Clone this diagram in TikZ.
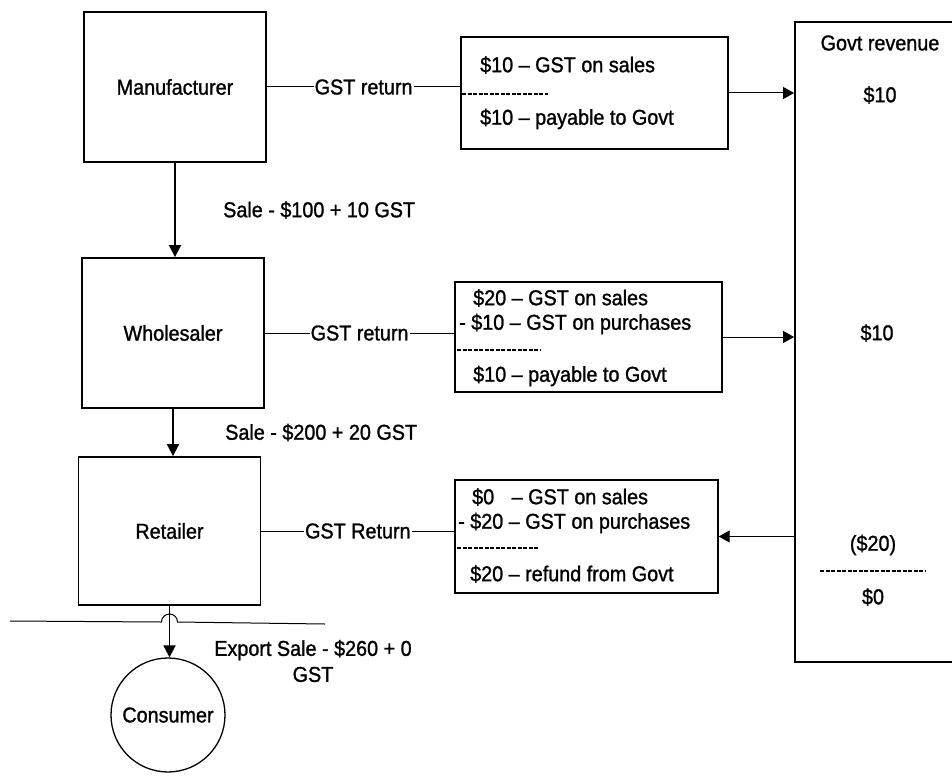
\documentclass[tikz,border=0pt]{standalone}
\usepackage{fontspec}
\setmainfont{Liberation Sans}[FakeBold=1.2,FakeStretch=0.92]
\usetikzlibrary{arrows.meta,positioning}

\begin{document}
\begin{tikzpicture}[x=1pt,y=-1pt,
  every node/.style={font=\fontsize{21.5}{26}\selectfont},
  party/.style={rectangle,draw,line width=1.8pt,minimum width=182pt,minimum height=150pt},
  retbox/.style={rectangle,draw,line width=1.4pt,minimum width=267pt,minimum height=112pt},
  txt/.style={anchor=west,inner sep=0pt},
  rule/.style={line width=1.5pt,dash pattern=on 4pt off 1.5pt},
  link/.style={line width=1pt},
  flow/.style={-{Triangle[length=11pt,width=12pt]},line width=1pt},
  arr/.style={-{Triangle[length=12pt,width=12pt]},line width=1.8pt}
]
  \path[use as bounding box,clip] (0,0) rectangle (952,778);
  \node[party] (man) at (175,87) {Manufacturer};
  \node[party] (whole) at (173,333) {Wholesaler};
  \node[party,minimum height=148pt] (ret) at (169.5,531) {Retailer};
  \node[circle,draw,line width=1.3pt,minimum size=114pt,inner sep=0pt] (cons) at (168,715) {Consumer};
  \node[retbox] (r1) at (594.5,93) {};
  \node[retbox,minimum height=110pt] (r2) at (588.5,337) {};
  \node[retbox,minimum width=263pt,minimum height=113pt] (r3) at (586.5,536.5) {};
  \node[rectangle,draw,line width=1.8pt,minimum width=215pt,minimum height=640pt] (govt) at (902.5,342) {};
  % return contents
  \node[txt] (r1a) at (480,65) {\$10 – GST on sales};
  \node[txt] (r1b) at (480,119) {\$10 – payable to Govt};
  \draw[rule] (462,94) -- (548,94);
  \node[txt] (r2a) at (473,298) {\$20 – GST on sales};
  \node[txt] (r2b) at (459,324) {- \$10 – GST on purchases};
  \node[txt] (r2c) at (473,376) {\$10 – payable to Govt};
  \draw[rule] (457,350) -- (541,350);
  \node[txt] (r3a) at (472,497) {\$0\hspace{12pt} – GST on sales};
  \node[txt] (r3b) at (458,523) {- \$20 – GST on purchases};
  \node[txt] (r3c) at (470,574) {\$20 – refund from Govt};
  \draw[rule] (457,548) -- (538,548);
  % govt column
  \node (gtitle) at (880,43) {Govt revenue};
  \node (g10a) at (880,95) {\$10};
  \node (g10b) at (877,333) {\$10};
  \node (gneg) at (873,545) {(\$20)};
  \node (gnet) at (873,597) {\$0};
  \draw[rule] (820,571) -- (926,571);
  % connectors
  \draw[link] (man.east) -- node[fill=white,inner sep=1pt] (g1) {GST return} (man.east -| r1.west);
  \draw[link] (whole.east) -- node[fill=white,inner sep=1pt] (g2) {GST return} (whole.east -| r2.west);
  \draw[link] (ret.east) -- node[fill=white,inner sep=1pt] (g3) {GST Return} (ret.east -| r3.west);
  \draw[flow] (r1.east) -- (r1.east -| govt.west);
  \draw[flow] (r2.east) -- (r2.east -| govt.west);
  \draw[flow] (govt.west |- r3.east) -- (r3.east);
  \draw[arr] (man.south) -- node[right=44pt] (s1) {Sale - \$100 + 10 GST} (man.south |- whole.north);
  \draw[arr] (whole.south) -- node[right=48pt] (s2) {Sale - \$200 + 20 GST} (whole.south |- ret.north);
  \draw[link] (10,621) -- (161.5,622) arc[start angle=180,end angle=0,radius=8pt] -- (325,624);
  \draw[arr] (ret.south) -- (ret.south |- cons.north);
  \node[align=center] (exp) at (313,661) {Export Sale - \$260 + 0\\GST};
\end{tikzpicture}
\end{document}
